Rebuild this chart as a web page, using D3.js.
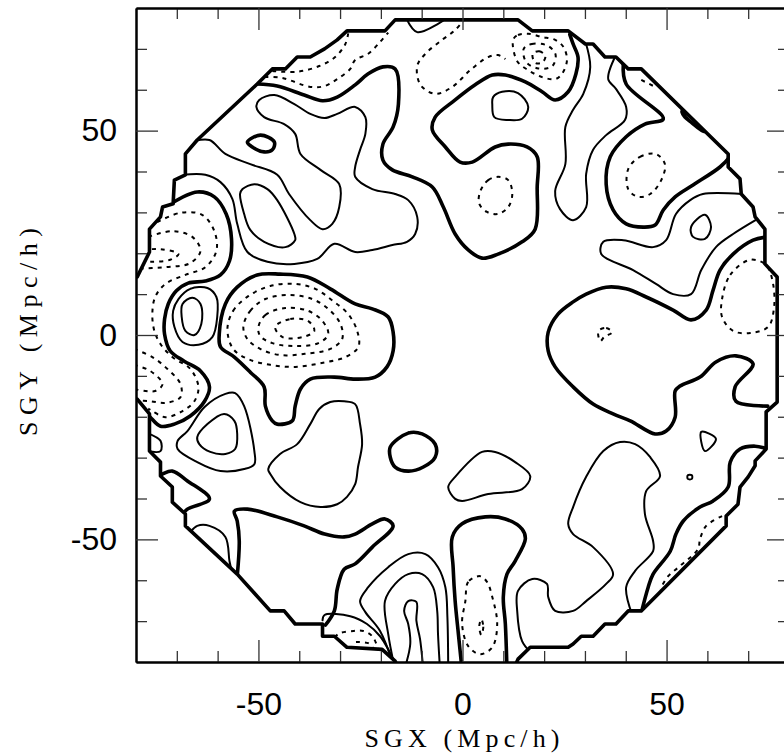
<!DOCTYPE html>
<html><head><meta charset="utf-8">
<script src="https://cdn.jsdelivr.net/npm/d3@7"></script>
<style>body{margin:0;background:#fff}</style>
</head><body>
<svg id="chart" width="784" height="756"></svg>
<script>
// Supergalactic plane density map: contours in SGX/SGY (Mpc/h).
const xDomain = [-80, 80];
const yDomain = [-80, 80];
const majorTicks = [-50, 0, 50];
const minorTicks = [-70, -60, -40, -30, -20, -10, 10, 20, 30, 40, 60, 70];

// Outline of the sampled volume.
const boundary = [
  [-16.5,77.1],[13.6,77.1],[17.1,74.4],[25.9,74.4],[30.1,71.2],[32.0,71.2],[34.9,68.0],[37.6,68.0],
  [40.6,65.1],[43.8,65.1],[65.1,44.3],[65.1,41.1],[68.0,38.2],[68.3,34.5],[71.2,31.3],[71.7,28.9],
  [74.1,25.9],[74.1,17.4],[77.1,14.2],[77.1,-16.4],[74.4,-18.8],[74.4,-27.9],[71.7,-30.8],[71.7,-32.0],
  [70.0,-34.7],[68.0,-37.2],[67.5,-41.4],[64.6,-44.3],[64.6,-46.7],[43.8,-67.5],[40.6,-67.5],[37.6,-70.7],
  [34.9,-70.7],[32.0,-73.7],[29.1,-73.7],[27.1,-75.6],[25.9,-76.4],[16.6,-76.4],[13.6,-79.3],[12.2,-82.5],
  [-15.3,-82.5],[-16.5,-79.8],[-19.7,-76.9],[-28.3,-76.4],[-31.4,-73.7],[-34.3,-73.7],[-34.3,-70.7],
  [-41.0,-70.7],[-43.7,-67.5],[-47.1,-67.5],[-55.2,-58.5],[-67.9,-46.7],[-67.9,-43.8],[-71.1,-40.9],
  [-71.1,-37.2],[-74.0,-34.5],[-74.0,-31.1],[-76.7,-28.4],[-76.7,-19.3],[-79.7,-15.7],[-82,-15.7],
  [-82,14.2],[-79.7,14.2],[-76.7,20.3],[-76.7,25.9],[-74.0,28.9],[-73.5,31.3],[-70.9,32.1],[-70.6,37.9],
  [-67.9,39.2],[-67.9,44.3],[-65.0,47.7],[-50.3,61.4],[-46.6,65.1],[-43.4,65.1],[-40.5,68.0],[-37.3,68.0],
  [-33.8,70.0],[-30.7,72.2],[-28.3,74.4],[-19.0,74.4]
];

// delta = 0 contours (open ones end on the outline)
const zeroLines = [
  [[-50.3,61.4],[-45.4,60.9],[-38.8,58.7],[-34.3,57.3],[-30.7,58.2],[-26.3,61.2],[-23.1,63.9],[-19.5,65.6],
   [-16.5,65.1],[-15.7,56.5],[-17.0,50.9],[-19.5,46.7],[-19.5,42.8],[-17.2,40.4],[-12.3,38.7],[-7.4,36.2],
   [-4.7,31.3],[-1.8,24.7],[1.4,20.8],[4.8,18.8],[8.7,19.8],[14.6,22.8],[17.8,25.9],[18.3,36.2],[18.3,43.6],
   [15.8,46.0],[11.2,46.7],[8.0,46.0],[2.4,42.3],[-0.6,42.3],[-4.2,46.0],[-7.4,50.2],[-6.7,53.3],[-1.8,57.5],
   [3.1,61.2],[7.3,63.6],[10.5,63.6],[15.4,61.9],[19.5,59.5],[22.7,57.5],[25.9,59.5],[27.8,63.9],[28.3,68.0],
   [27.1,71.2],[26.3,73.5]],
  [[39.4,66.5],[40.1,61.4],[49.2,52.9],[44.7,51.6],[40.1,48.5],[36.2,43.6],[35.2,36.9],[36.9,30.6],[40.1,27.2],
   [44.3,26.4],[47.2,26.9],[49.2,30.6],[52.1,33.8],[56.5,36.7],[63.1,41.1],[65.5,43.6]],
  [[74.6,24.0],[71.2,23.2],[66.3,19.8],[63.1,15.9],[61.4,11.0],[59.7,6.1],[56.0,3.7],[51.6,6.1],[45.0,9.3],
   [40.1,11.3],[35.2,11.7],[30.3,10.0],[27.1,8.1],[23.4,5.1],[21.0,0.7],[21.0,-3.9],[22.7,-7.8],[27.1,-12.7],
   [32.0,-16.9],[36.9,-19.3],[41.1,-21.0],[47.2,-24.2],[49.9,-23.5],[52.1,-20.1],[52.1,-13.7],[53.3,-12.5],
   [58.2,-10.3],[62.1,-6.6],[67.0,-5.1],[71.2,-7.1],[66.8,-12.7],[67.0,-16.2],[74.8,-17.4]],
  [[74.8,-27.9],[71.7,-27.2],[68.0,-27.9],[65.6,-31.1],[65.1,-37.2],[61.4,-40.6],[58.2,-42.1],[54.1,-45.5],
   [52.3,-48.7],[50.9,-52.9],[46.7,-58.5],[45.5,-61.7],[43.8,-68.0]],
  [[-55.2,-59.0],[-54.7,-50.4],[-55.2,-45.5],[-55.9,-43.1],[-52.7,-42.6],[-45.4,-44.5],[-38.8,-46.7],
   [-33.8,-48.7],[-29.0,-49.4],[-26.3,-48.7],[-22.1,-46.2],[-19.0,-45.0],[-17.0,-46.7],[-22.1,-51.9],
   [-26.3,-56.0],[-29.0,-57.3],[-30.7,-62.2],[-31.4,-67.5],[-33.6,-71.0]],
  [[-0.1,-82],[-1.0,-73.2],[-1.8,-65.1],[-2.3,-56.8],[-2.5,-49.4],[-0.1,-46.2],[5.6,-44.5],[10.5,-45.0],
   [14.6,-47.5],[15.4,-49.9],[12.9,-55.3],[10.9,-58.5],[10.0,-64.1],[10.5,-70.7],[10.9,-82]],
  [[-74.5,-34.5],[-73.5,-34.0],[-71.1,-33.3],[-67.4,-35.7],[-62.0,-40.1],[-67.4,-42.6],[-68.5,-43.8]],
  [[-71.5,32.1],[-65.0,35.0],[-60.8,33.8],[-57.9,29.6],[-56.6,23.5],[-57.1,18.1],[-59.3,14.7],[-63.0,13.2],
   [-67.2,12.7],[-70.1,10.8],[-72.1,7.6],[-73.0,3.9],[-73.0,0.2],[-71.6,-3.9],[-68.2,-6.4],[-64.2,-8.8],
   [-62.0,-12.7],[-63.2,-16.2],[-66.7,-19.8],[-70.6,-21.8],[-74.0,-22.3],[-76.5,-20.1],[-77.5,-19.0]]
];
const zeroLoops = [
  [[-59.6,0.2],[-58.1,7.6],[-55.2,11.7],[-50.3,14.7],[-44.7,14.9],[-38.0,14.2],[-32.4,11.3],[-26.3,7.6],
   [-22.1,6.4],[-18.2,4.4],[-17.0,0.7],[-17.0,-3.9],[-18.5,-7.8],[-21.4,-10.3],[-26.3,-10.8],[-31.4,-10.3],
   [-37.3,-10.8],[-39.7,-13.2],[-41.0,-17.4],[-41.7,-21.0],[-45.4,-21.8],[-46.6,-21.0],[-48.3,-17.4],
   [-48.6,-12.7],[-52.0,-9.1],[-55.9,-5.4],[-59.3,-2.9]],
  [[-52.7,47.2],[-49.5,48.9],[-46.1,47.2],[-46.6,45.3],[-48.6,44.8],[-51.5,46.0]],
  [[-17.7,-27.4],[-13.3,-24.0],[-9.9,-24.2],[-6.7,-26.7],[-6.7,-29.9],[-9.6,-32.3],[-13.3,-33.3],
   [-16.5,-32.3],[-17.7,-29.9]],
  [[53.8,54.8],[55.8,53.6],[58.2,51.9],[59.7,49.9],[58.9,49.9],[56.2,51.9],[54.3,53.6]]
];

// positive contours
const posLines = [
  [[-65.5,47.5],[-62.0,47.7],[-58.1,44.3],[-52.0,41.8],[-45.4,39.2],[-42.5,34.5],[-37.3,28.1],[-34.3,25.9],
   [-31.9,27.2],[-30.2,31.3],[-30.2,36.9],[-34.8,40.4],[-39.7,44.3],[-41.0,49.2],[-43.7,51.6],[-48.6,53.3],
   [-50.5,55.8],[-49.8,57.5],[-46.1,58.7],[-41.2,56.5],[-37.3,54.1],[-33.8,53.1],[-30.7,54.1],[-26.3,55.8],
   [-23.8,53.3],[-23.8,49.2],[-25.1,45.3],[-26.3,41.1],[-26.3,38.7],[-22.1,35.7],[-16.5,34.5],[-13.3,33.0],
   [-11.1,28.9],[-11.6,24.7],[-13.6,22.8],[-17.2,22.0],[-22.1,20.8],[-26.3,20.3],[-31.4,22.3],[-35.6,18.6],
   [-41.2,17.4],[-47.8,17.9],[-52.7,20.3],[-55.2,27.2],[-56.4,33.3],[-59.3,37.4],[-63.0,39.2],[-68.5,39.2]],
  [[30.1,71.8],[31.3,65.6],[29.6,59.0],[27.1,55.1],[25.2,50.9],[25.2,41.8],[22.7,35.2],[23.9,30.8],[27.1,28.1],
   [30.3,31.3],[30.3,39.4],[32.0,45.3],[35.2,48.9],[39.8,52.6],[40.1,55.8],[37.6,60.2],[35.7,62.6],[37.6,68.5]],
  [[68.5,34.5],[58.9,34.5],[55.8,33.0],[52.3,29.6],[49.9,23.2],[46.7,21.5],[39.4,23.2],[34.5,22.8],[34.0,19.8],
   [41.8,15.9],[47.4,12.5],[51.6,10.0],[56.0,10.0],[58.5,15.9],[62.1,21.5],[66.3,24.7],[71.8,28.1]],
  [[41.6,-68.5],[40.1,-61.7],[42.3,-57.7],[46.7,-52.9],[46.7,-50.4],[44.7,-43.8],[45.0,-38.2],[48.4,-34.5],
   [46.0,-29.9],[42.3,-26.7],[38.6,-26.2],[34.5,-28.4],[30.3,-34.7],[27.1,-42.1],[25.9,-46.2],[27.1,-48.7],
   [32.0,-51.9],[36.9,-58.5],[35.2,-60.9],[30.3,-65.1],[27.1,-67.5],[22.7,-67.5],[21.0,-64.1],[20.7,-60.9],
   [17.1,-59.7],[13.6,-62.6],[13.4,-67.5],[14.6,-74.9],[16.6,-77.5]],
  [[-77.2,-24.0],[-74.0,-25.9],[-74.0,-28.4],[-77.2,-28.4]],
  [[-66.5,-48.0],[-65.0,-46.7],[-62.0,-46.7],[-58.1,-49.4],[-57.1,-55.3],[-56.6,-57.5]],
  [[-13.8,77.5],[-11.1,74.1],[-6.0,76.1],[-4.0,77.5]],
  [[-16.5,-82],[-20.2,-72.4],[-23.8,-67.8],[-25.1,-65.1],[-23.1,-61.7],[-18.2,-56.8],[-13.3,-53.6],[-9.1,-53.6],
   [-6.0,-56.8],[-4.2,-61.7],[-3.7,-69.0],[-3.5,-82]],
  [[-16.5,-82],[-18.2,-73.2],[-19.0,-65.1],[-16.5,-60.9],[-13.3,-58.5],[-9.9,-58.5],[-7.2,-61.7],[-6.2,-67.5],
   [-6.0,-73.2],[-5.5,-82]],
  [[-14.3,-82],[-12.8,-75.6],[-13.3,-70.7],[-14.3,-67.5],[-13.3,-65.1],[-11.3,-65.3],[-11.3,-69.9],
   [-10.4,-74.4],[-9.6,-82]],
  [[-34.3,-69.8],[-33.8,-68.5],[-27.5,-68.8],[-23.4,-70.7],[-20.2,-73.7],[-18.2,-76.9],[-16.5,-80.5]]
];
const posLoops = [
  [[-53.9,35.7],[-51.0,36.9],[-47.8,35.7],[-45.4,33.0],[-41.2,24.7],[-41.0,23.2],[-43.4,21.5],[-48.6,22.8],
   [-52.0,25.7],[-53.5,29.6],[-54.5,34.5]],
  [[7.5,58.2],[9.7,59.5],[13.6,59.2],[16.1,55.8],[14.6,52.9],[11.2,52.6],[7.8,53.3],[7.3,56.3]],
  [[56.0,26.4],[59.4,29.4],[60.9,26.4],[59.4,23.5],[56.5,24.0]],
  [[58.5,-23.7],[62.1,-25.4],[59.4,-28.4]],
  [[55.2,-34.3],[56.2,-34.3],[56.2,-35.2],[55.2,-35.2]],
  [[-69.8,-25.9],[-67.4,-23.5],[-63.2,-17.6],[-58.1,-14.4],[-55.7,-14.2],[-53.5,-17.4],[-51.0,-28.4],
   [-51.0,-31.6],[-53.5,-32.8],[-59.3,-33.3],[-65.0,-31.1],[-69.8,-27.9]],
  [[-65.0,-25.0],[-62.5,-21.8],[-58.4,-19.3],[-55.9,-21.0],[-55.2,-24.2],[-55.7,-27.9],[-58.1,-29.1],
   [-61.8,-28.6],[-64.5,-26.7]],
  [[-47.6,-32.8],[-44.7,-29.1],[-40.5,-26.7],[-37.3,-21.8],[-35.1,-18.1],[-32.4,-16.4],[-29.0,-16.2],
   [-26.3,-16.9],[-25.1,-21.8],[-24.6,-26.7],[-25.6,-32.3],[-26.3,-36.5],[-28.3,-39.6],[-30.7,-41.4],
   [-34.8,-42.1],[-39.7,-40.9],[-44.7,-37.2],[-47.1,-34.0]],
  [[-3.5,-37.2],[-1.8,-34.7],[4.8,-28.6],[8.0,-28.6],[12.9,-31.1],[16.6,-34.5],[14.6,-37.7],[6.3,-38.9],
   [-0.1,-40.6],[-1.8,-40.1]],
  [[-69.6,8.8],[-66.7,11.3],[-62.5,11.5],[-60.3,9.3],[-60.1,4.4],[-61.3,-0.5],[-64.7,-2.4],[-68.6,-1.7],
   [-70.6,2.0],[-70.9,5.9]],
  [[-68.6,7.6],[-66.2,9.1],[-64.2,7.6],[-64.0,2.7],[-65.7,0.0],[-67.9,1.0],[-68.8,4.4]]
];

// negative contours
const negLines = [
  [[63.6,-44.3],[59.7,-46.7],[58.2,-49.9],[57.7,-52.4],[53.3,-56.5],[50.4,-59.0],[48.4,-62.2]],
  [[43.8,62.4],[47.2,60.7]],
  [[-31.4,-73.9],[-29.9,-72.9],[-26.7,-72.4],[-24.3,-72.4],[-22.1,-73.7],[-21.1,-75.6],[-20.7,-77.2]],
  [[-26.1,-75.1],[-23.1,-75.4],[-21.9,-76.6]],
  [[-46.6,64.6],[-40.5,64.4],[-35.1,65.8],[-31.2,68.0],[-28.7,71.2],[-28.0,73.8]],
  [[-48.5,63.1],[-44.2,62.9],[-37.3,60.7],[-33.8,60.9],[-30.7,62.6],[-27.5,65.1],[-26.3,67.3],[-23.1,68.8],
   [-20.2,71.7],[-18.2,74.0]],
  [[0.7,77.5],[-1.8,74.6],[-5.0,72.2],[-9.1,68.8],[-11.1,65.8],[-10.3,61.2],[-6.7,59.0],[-2.5,60.7],[1.9,64.8],
   [6.3,68.0],[8.7,68.5],[10.5,67.5]],
  [[-74.8,27.6],[-69.1,29.9],[-63.8,29.4],[-60.8,25.4],[-60.3,20.6],[-63.0,16.6],[-67.9,14.7],[-72.8,12.5],
   [-75.3,9.3],[-76.0,5.1],[-75.5,1.0],[-74.0,-2.2],[-71.1,-5.4],[-66.7,-8.3],[-64.7,-12.7],[-65.7,-16.2],
   [-68.6,-18.6],[-72.8,-20.1],[-76.0,-18.6],[-77.0,-18.0]],
  [[-77.0,24.0],[-71.1,25.4],[-66.2,24.0],[-64.2,20.6],[-66.7,17.6],[-72.8,16.6],[-80.5,16.2]],
  [[-80.5,20.6],[-74.0,21.0],[-69.6,19.8],[-71.6,18.4],[-76.5,17.9],[-80.5,17.9]],
  [[-80.5,-3.4],[-76.0,-5.4],[-72.3,-8.3],[-69.1,-12.0],[-69.1,-15.2],[-72.8,-16.6],[-76.5,-16.2],[-80.5,-16.0]],
  [[-80.5,-7.3],[-76.5,-8.8],[-73.5,-12.0],[-75.3,-13.7],[-80.5,-13.2]]
];
const negLoops = [
  [[4.3,35.0],[6.3,37.9],[8.7,38.7],[11.2,37.9],[12.2,34.5],[11.2,31.3],[8.7,29.6],[6.0,30.1],[4.1,32.1]],
  [[40.6,40.6],[43.5,43.6],[47.4,44.3],[49.6,41.8],[48.7,37.9],[46.0,34.5],[43.0,33.8],[40.6,35.7]],
  [[63.6,8.8],[65.6,14.7],[70.5,18.4],[74.4,17.1],[76.1,12.5],[76.3,6.4],[74.9,2.0],[70.5,0.5],[66.3,1.0],[63.6,4.4]],
  [[33.3,1.0],[35.2,1.7],[36.7,0.7],[34.7,-0.5],[33.8,-1.5]],
  [[4.3,-59.0],[1.4,-60.4],[0.7,-65.1],[-0.1,-70.7],[1.4,-76.1],[4.3,-78.1],[7.3,-76.4],[8.5,-70.7],[7.3,-64.1],[6.0,-60.4]],
  [[4.6,-69.5],[5.1,-71.4],[4.6,-73.4],[4.1,-71.4]],
  [[-57.6,1.5],[-56.2,5.9],[-52.5,9.5],[-47.1,12.0],[-41.0,12.5],[-36.1,11.3],[-31.7,8.3],[-28.0,5.1],[-25.8,1.0],
   [-25.5,-2.9],[-28.7,-5.4],[-34.8,-6.9],[-41.0,-7.8],[-47.1,-7.3],[-52.5,-5.9],[-56.2,-3.4]],
  [[-53.7,2.0],[-52.0,5.9],[-48.3,8.8],[-42.2,9.8],[-36.8,8.8],[-32.9,6.4],[-29.9,2.7],[-29.5,-1.0],[-32.4,-3.4],
   [-38.6,-4.6],[-44.7,-4.9],[-49.6,-3.4],[-52.7,-1.0]],
  [[-50.0,2.0],[-48.3,4.9],[-43.4,6.6],[-37.8,5.9],[-34.3,3.4],[-32.9,0.2],[-35.3,-2.0],[-41.0,-2.7],[-46.6,-2.0],
   [-49.6,-0.2]],
  [[-45.9,2.0],[-42.2,3.9],[-37.8,3.4],[-36.3,1.0],[-39.2,-0.5],[-44.1,-0.5]],
  [[12.4,72.2],[13.6,73.4],[16.1,73.7],[19.5,72.9],[22.7,72.2],[24.7,70.5],[25.6,67.3],[24.4,63.9],[22.7,62.6],
   [19.5,63.1],[16.1,64.8],[13.4,67.0]],
  [[15.0,70.0],[17.0,71.2],[20.8,70.8],[22.8,68.6],[22.0,65.8],[18.6,65.2],[15.6,66.8]],
  [[17.2,68.8],[18.8,69.4],[20.3,68.3],[19.6,66.7],[17.8,66.6]]
];

const svg = d3.select('#chart');
const x = d3.scaleLinear().domain(xDomain).range([136, 789]);
const y = d3.scaleLinear().domain(yDomain).range([662, 8]);

const defs = svg.append('defs');
defs.append('clipPath').attr('id', 'plotClip').append('rect')
  .attr('x', x(-80)).attr('y', y(80)).attr('width', x(80) - x(-80)).attr('height', y(-80) - y(80));
defs.append('clipPath').attr('id', 'regionClip').append('path')
  .attr('d', d3.line().x(d => x(d[0])).y(d => y(d[1]))(boundary) + 'Z');

const openLine = d3.line().x(d => x(d[0])).y(d => y(d[1])).curve(d3.curveCatmullRom.alpha(0.5));
const closedLine = d3.line().x(d => x(d[0])).y(d => y(d[1])).curve(d3.curveCatmullRomClosed.alpha(0.5));

const plot = svg.append('g').attr('clip-path', 'url(#plotClip)');
const inner = plot.append('g').attr('clip-path', 'url(#regionClip)')
  .attr('fill', 'none').attr('stroke', '#000').attr('stroke-linejoin', 'round').attr('stroke-linecap', 'round');

function drawSet(lines, loops, cls, width, dash) {
  const g = inner.append('g').attr('class', cls).attr('stroke-width', width);
  if (dash) g.attr('stroke-dasharray', dash).attr('stroke-linecap', 'butt');
  g.selectAll('path.open').data(lines).join('path').attr('class', 'open').attr('d', openLine);
  g.selectAll('path.closed').data(loops).join('path').attr('class', 'closed').attr('d', closedLine);
}
drawSet(negLines, negLoops, 'neg', 2, '4,5');
drawSet(posLines, posLoops, 'pos', 2, null);
drawSet(zeroLines, zeroLoops, 'zero', 3.6, null);

plot.append('path')
  .attr('d', d3.line().x(d => x(d[0])).y(d => y(d[1]))(boundary) + 'Z')
  .attr('fill', 'none').attr('stroke', '#000').attr('stroke-width', 3.6).attr('stroke-linejoin', 'round');

// Frame and ticks on all four sides, pointing inward
const axisFont = '"Liberation Sans", Arial, sans-serif';
function styleAxis(g) {
  g.select('.domain').attr('stroke', '#000').attr('stroke-width', 2);
  g.selectAll('.tick line').attr('stroke', '#333').attr('stroke-width', 1.3);
  g.selectAll('.tick text').attr('font-family', axisFont).attr('font-size', 32).attr('fill', '#000');
}
const fmt = d => String(d);
function sideAxis(axisFn, scale, pos, labelled, pad) {
  const t = axisFn === d3.axisBottom || axisFn === d3.axisTop ? `translate(0,${pos})` : `translate(${pos},0)`;
  svg.append('g').attr('transform', t)
    .call(axisFn(scale).tickValues(minorTicks).tickSize(-11).tickSizeOuter(0).tickFormat(''))
    .call(styleAxis);
  svg.append('g').attr('transform', t)
    .call(axisFn(scale).tickValues(majorTicks).tickSize(-22).tickSizeOuter(0)
      .tickPadding(pad || 3).tickFormat(labelled ? fmt : ''))
    .call(styleAxis);
}
sideAxis(d3.axisBottom, x, y(-80), true, 30);
sideAxis(d3.axisTop, x, y(80), false);
sideAxis(d3.axisLeft, y, x(-80), true, 19);
sideAxis(d3.axisRight, y, x(80), false);

const titleFont = '"Liberation Serif", "DejaVu Serif", serif';
svg.append('text').attr('x', 462).attr('y', 747).attr('text-anchor', 'middle')
  .attr('font-family', titleFont).attr('font-size', 26).attr('textLength', 195).attr('lengthAdjust', 'spacing')
  .text('SGX (Mpc/h)');
svg.append('text').attr('transform', 'translate(37,332) rotate(-90)').attr('text-anchor', 'middle')
  .attr('font-family', titleFont).attr('font-size', 26).attr('textLength', 208).attr('lengthAdjust', 'spacing')
  .text('SGY (Mpc/h)');
</script>
</body></html>
